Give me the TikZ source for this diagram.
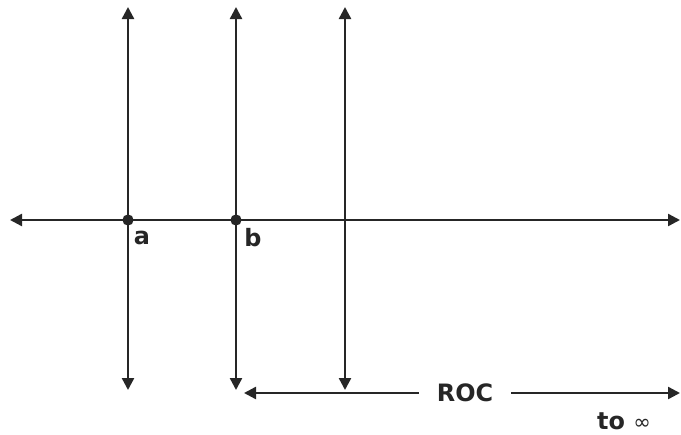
\documentclass[tikz,border=0pt]{standalone}
\usepackage{fontspec}
\setmainfont{DejaVu Sans}
\usetikzlibrary{arrows.meta}

\begin{document}
\begin{tikzpicture}[x=0.025cm, y=-0.025cm, >={Triangle[length=3mm, width=3mm]},
  line width=1.7pt,
  axis/.style={<->, draw=black!85},
  lbl/.style={font=\fontsize{17}{20}\selectfont\bfseries, inner sep=0pt, text=black!85},
  pole/.style={circle, fill=black!85, minimum size=2.8mm, inner sep=0pt}]

\useasboundingbox (0,0) rectangle (681,434);

% ---- real axis ------------------------------------------------------------------
\coordinate (west) at (10,220);
\coordinate (east) at (680,220);
\draw[axis] (west) -- (east);

% ---- the three vertical lines ---------------------------------------------------
\coordinate (atop) at (128,7);
\coordinate (abot) at (128,390);
\coordinate (btop) at (236,7);
\coordinate (bbot) at (236,390);
\coordinate (ctop) at (345,7);
\coordinate (cbot) at (345,390);
\draw[axis] (atop) -- (abot);
\draw[axis] (btop) -- (bbot);
\draw[axis] (ctop) -- (cbot);

% ---- poles ----------------------------------------------------------------------
\node[pole] (pa) at (128,220) {};
\node[pole] (pb) at (236,220) {};
\node[lbl] (la) at (142,238) {a};
\node[lbl] (lb) at (253,238) {b};

% ---- region of convergence ------------------------------------------------------
\node[lbl, inner xsep=4.2mm] (roc) at (465,393) {ROC};
\coordinate (rocl) at (244,393);
\coordinate (rocr) at (680,393);
\draw[->, draw=black!85] (roc) -- (rocl);
\draw[->, draw=black!85] (roc) -- (rocr);
\node[lbl] (toinf) at (624,421) {to {\mdseries\fontsize{15}{17}\selectfont ∞}};

\end{tikzpicture}
\end{document}
